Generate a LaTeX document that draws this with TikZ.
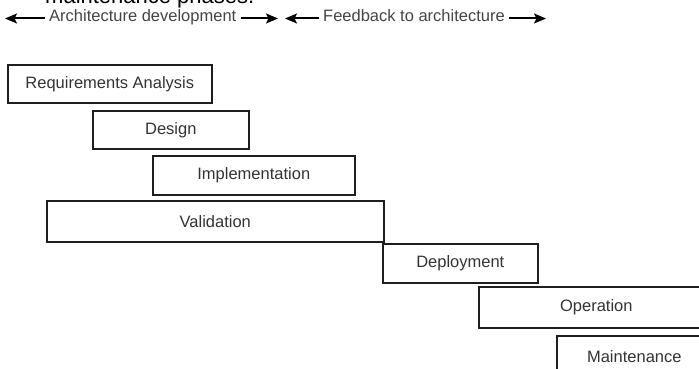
\documentclass[tikz,border=0pt]{standalone}
\usepackage{fontspec}
\setmainfont{Liberation Sans}
\usetikzlibrary{arrows.meta}
\definecolor{txtgray}{HTML}{333333}
\definecolor{hdrgray}{HTML}{444444}
\definecolor{boxline}{HTML}{1E1E1E}
\begin{document}
\begin{tikzpicture}[x=1pt,y=-1pt,
  stagebox/.style={draw=boxline, line width=1.6pt, anchor=north west, inner sep=0pt,
    text=txtgray, font=\fontsize{16.5}{19}\selectfont},
  hdr/.style={inner sep=0pt, text=hdrgray, font=\fontsize{16.5}{19}\selectfont},
  arr/.style={draw=black, line width=2pt, -{Stealth[length=12pt,width=10pt,inset=2.5pt]}}
]
\useasboundingbox (0,0) rectangle (699,369);
% cut-off caption at top
\node[anchor=base west, inner sep=0pt, font=\fontsize{22}{26}\selectfont] (cap) at (45,3.5) {maintenance phases.};
% header
\node[hdr, anchor=mid west] (arch) at (49,18.5) {Architecture development};
\node[hdr, anchor=mid west] (feed) at (323,18.5) {Feedback to architecture};
\coordinate (a1) at (5,18.5);
\coordinate (a2) at (278,18.5);
\coordinate (a3) at (285,18.5);
\coordinate (a4) at (546,18.5);
\draw[arr] ([xshift=-4pt]arch.mid west) -- (a1);
\draw[arr] ([xshift=4pt]arch.mid east) -- (a2);
\draw[arr] ([xshift=-4pt]feed.mid west) -- (a3);
\draw[arr] ([xshift=4pt]feed.mid east) -- (a4);
% stages
\node[stagebox, minimum width=204pt, minimum height=38pt] (req) at (7,64) {Requirements Analysis};
\node[stagebox, minimum width=156pt, minimum height=38pt] (des) at (92,110) {Design};
\node[stagebox, minimum width=202pt, minimum height=39pt] (imp) at (152,155) {Implementation};
\node[stagebox, minimum width=337pt, minimum height=41pt] (val) at (46,200) {Validation};
\node[stagebox, minimum width=155pt, minimum height=39pt] (dep) at (382,243) {Deployment};
\node[stagebox, minimum width=235pt, minimum height=41pt] (ope) at (478,286) {Operation};
\node[stagebox, minimum width=155pt, minimum height=42pt] (mai) at (556,335) {Maintenance};
\end{tikzpicture}
\end{document}
